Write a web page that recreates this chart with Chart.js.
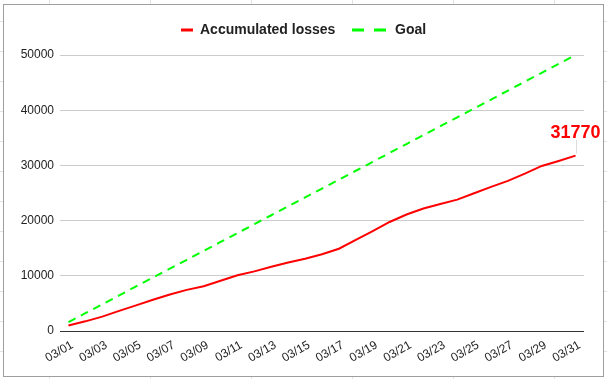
<!DOCTYPE html>
<html>
<head>
<meta charset="utf-8">
<script src="https://cdn.jsdelivr.net/npm/chart.js@4.4.1/dist/chart.umd.min.js"></script>
<style>
  html, body { margin: 0; padding: 0; }
  body {
    width: 607px; height: 379px; position: relative; overflow: hidden;
    background-color: #fff;
    background-image: linear-gradient(to right, #e2e2e2 1px, transparent 1px),
                      linear-gradient(to bottom, #e2e2e2 1px, transparent 1px);
    background-size: 101px 30px;
    background-position: 49px 21px;
  }
  #frame { position: absolute; left: 3px; top: 4px; width: 599px; height: 371px;
           border: 1px solid #9e9e9e; background: #fff; }
  #wrap { position: absolute; left: 0; top: 0; width: 607px; height: 379px; }
</style>
</head>
<body>
<div id="frame"></div>
<div id="wrap"><canvas id="c" width="607" height="379"></canvas></div>
<script>
const categories = ["03/01","03/02","03/03","03/04","03/05","03/06","03/07","03/08","03/09","03/10",
  "03/11","03/12","03/13","03/14","03/15","03/16","03/17","03/18","03/19","03/20",
  "03/21","03/22","03/23","03/24","03/25","03/26","03/27","03/28","03/29","03/30","03/31"];
const accumulatedLosses = [1000,1750,2600,3650,4650,5650,6600,7450,8100,9100,
  10100,10800,11650,12400,13100,13900,14900,16500,18100,19750,
  21100,22200,23000,23800,24950,26100,27200,28500,29900,30800,31770];
const goal = [1613,3226,4839,6452,8065,9677,11290,12903,14516,16129,
  17742,19355,20968,22581,24194,25806,27419,29032,30645,32258,
  33871,35484,37097,38710,40323,41935,43548,45161,46774,48387,50000];
const yTicks = [0,10000,20000,30000,40000,50000];
const seriesNames = ["Accumulated losses","Goal"];
const FONT = "Arial, 'Liberation Sans', sans-serif";

const legendPlugin = {
  id: 'customLegend',
  afterDraw(chart) {
    const ctx = chart.ctx;
    ctx.save();
    const y = 30;
    ctx.lineWidth = 3;
    ctx.strokeStyle = '#ff0000';
    ctx.beginPath(); ctx.moveTo(181, y); ctx.lineTo(193, y); ctx.stroke();
    ctx.strokeStyle = '#00ff00';
    ctx.beginPath(); ctx.moveTo(352, y); ctx.lineTo(364, y); ctx.moveTo(374, y); ctx.lineTo(386, y); ctx.stroke();
    ctx.fillStyle = '#222';
    ctx.font = 'bold 14px ' + FONT;
    ctx.textBaseline = 'middle';
    ctx.textAlign = 'left';
    ctx.fillText(seriesNames[0], 200, y + 0.5);
    ctx.fillText(seriesNames[1], 395, y + 0.5);
    ctx.restore();
  }
};

const annotPlugin = {
  id: 'lastLabel',
  afterDatasetsDraw(chart) {
    const meta = chart.getDatasetMeta(0);
    const pt = meta.data[meta.data.length - 1];
    const ctx = chart.ctx;
    ctx.save();
    ctx.strokeStyle = '#dddddd';
    ctx.lineWidth = 1;
    ctx.beginPath();
    ctx.moveTo(Math.round(pt.x) + 0.5, pt.y - 2);
    ctx.lineTo(Math.round(pt.x) + 0.5, pt.y - 16);
    ctx.stroke();
    ctx.fillStyle = '#ff0000';
    ctx.font = 'bold 18px ' + FONT;
    ctx.textAlign = 'center';
    ctx.textBaseline = 'alphabetic';
    ctx.fillText(String(accumulatedLosses[accumulatedLosses.length - 1]), pt.x, pt.y - 18);
    ctx.restore();
  }
};

new Chart(document.getElementById('c'), {
  type: 'line',
  data: {
    labels: categories,
    datasets: [
      { label: seriesNames[0], data: accumulatedLosses, borderColor: '#ff0000', backgroundColor: '#ff0000',
        borderWidth: 2, pointRadius: 0, tension: 0, fill: false },
      { label: seriesNames[1], data: goal, borderColor: '#00ff00', backgroundColor: '#00ff00',
        borderWidth: 2, borderDash: [8, 6], pointRadius: 0, tension: 0, fill: false }
    ]
  },
  options: {
    responsive: false,
    animation: false,
    devicePixelRatio: 1,
    layout: { padding: { top: 55, right: 23, bottom: 0, left: 0 } },
    plugins: { legend: { display: false }, tooltip: { enabled: false } },
    scales: {
      x: {
        offset: true,
        grid: { display: false, drawTicks: false },
        border: { display: false },
        afterFit(scale) { scale.height = 48; },
        ticks: {
          autoSkip: false, minRotation: 30, maxRotation: 30, padding: 7, labelOffset: 4,
          color: '#222', font: { family: FONT, size: 12 },
          callback(v, i) { return i % 2 === 0 ? categories[i] : ''; }
        }
      },
      y: {
        min: 0, max: 50000,
        afterFit(scale) { scale.width = 60; },
        afterBuildTicks(scale) { scale.ticks = yTicks.map(v => ({ value: v })); },
        grid: {
          drawTicks: false,
          color: (c) => c.tick && c.tick.value === 0 ? '#333333' : '#cccccc',
          lineWidth: 1
        },
        border: { display: false },
        ticks: { padding: 6, color: '#222', font: { family: FONT, size: 12 },
                 callback(v) { return String(v); } }
      }
    }
  },
  plugins: [legendPlugin, annotPlugin]
});
</script>
</body>
</html>
